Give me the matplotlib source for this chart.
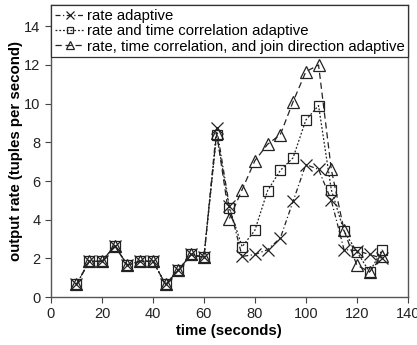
import matplotlib
matplotlib.use("Agg")
import matplotlib.pyplot as plt

plt.rcParams['font.family'] = ['Liberation Sans', 'DejaVu Sans']

time = [10, 15, 20, 25, 30, 35, 40, 45, 50, 55, 60, 65, 70, 75, 80, 85, 90, 95, 100, 105, 110, 115, 120, 125, 130]
common = [0.65, 1.85, 1.85, 2.65, 1.65, 1.85, 1.85, 0.65, 1.4, 2.2, 2.05]
rate_adaptive = common + [8.75, 4.7, 2.1, 2.2, 2.45, 3.05, 4.95, 6.85, 6.6, 5.0, 2.45, 2.4, 2.2, 2.0]
rate_time = common + [8.4, 4.6, 2.6, 3.45, 5.5, 6.55, 7.2, 9.15, 9.9, 5.55, 3.4, 2.35, 1.3, 2.45]
rate_time_join = common + [8.5, 4.05, 5.55, 7.05, 7.9, 8.4, 10.1, 11.65, 12.0, 6.6, 3.45, 1.65, 1.3, 2.1]

labels = ["rate adaptive",
          "rate and time correlation adaptive",
          "rate, time correlation, and join direction adaptive"]

fig = plt.figure(figsize=(4.17, 3.45), dpi=100)
ax = fig.add_axes([0.1223, 0.139, 0.8555, 0.8465])

c = '#222222'
ax.plot(time, rate_adaptive, color=c, lw=0.9, ls=(0, (4, 2, 1, 2)),
        marker='x', ms=9, mew=0.9, mec=c, label=labels[0])
ax.plot(time, rate_time, color=c, lw=0.9, ls=(0, (1.5, 1.5)),
        marker='s', ms=7.5, mew=0.9, mfc='none', mec=c, label=labels[1])
ax.plot(time, rate_time_join, color=c, lw=0.9, ls=(0, (5, 3)),
        marker='^', ms=8.5, mew=0.9, mfc='none', mec=c, label=labels[2])

ax.set_xlim(0, 140)
ax.set_ylim(0, 15.1)
ax.set_xticks(range(0, 141, 20))
ax.set_yticks(range(0, 15, 2))
ax.tick_params(direction='out', length=4, width=0.8, labelsize=10.5, color='#444444', labelcolor='#222222')
for s in ax.spines.values():
    s.set_color('#555555')
    s.set_linewidth(1.0)

ax.set_xlabel("time (seconds)", fontsize=10.8, fontweight='bold', labelpad=2)
ax.set_ylabel("output rate (tuples per second)", fontsize=10.8, fontweight='bold', labelpad=1)

leg = ax.legend(loc='upper left', bbox_to_anchor=(0, 1), borderaxespad=0,
                fancybox=False, edgecolor='#333333', framealpha=1, fontsize=10.7,
                handlelength=2.0, handletextpad=0.15, labelspacing=0.1, borderpad=0.25,
                markerscale=0.6)
leg.get_frame().set_linewidth(0.9)

fig.savefig("out.png", dpi=100)
